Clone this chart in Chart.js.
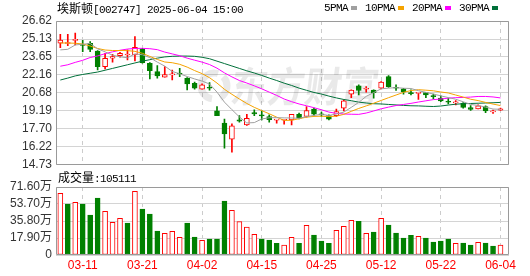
<!DOCTYPE html>
<html><head><meta charset="utf-8">
<script src="https://cdn.jsdelivr.net/npm/chart.js@4.4.1/dist/chart.umd.min.js"></script>
<style>
html,body{margin:0;padding:0;background:#fff;}
body{width:530px;height:276px;position:relative;overflow:hidden;}
canvas{position:absolute;left:0;}
#c1{top:0;}
#c2{top:160px;}
.txt{position:absolute;white-space:nowrap;height:16px;line-height:16px;color:#000;}
.cjk{font-family:'Noto Sans CJK SC';font-size:12px;}
.mono{font-family:'Liberation Mono';font-size:11px;letter-spacing:-0.6px;}
#legend{position:absolute;left:324px;top:0;height:16px;line-height:16px;display:flex;white-space:nowrap;}
#legend .item{margin-right:8px;}
#legend .sw{display:inline-block;width:6px;height:4px;margin-left:3px;vertical-align:1px;}
</style></head>
<body>
<canvas id="c1" width="530" height="176"></canvas>
<canvas id="c2" width="530" height="116"></canvas>
<div id="title" class="txt" style="left:57px;top:0;"></div>
<div id="legend"></div>
<div id="volLabel" class="txt" style="left:58px;top:169px;"></div>
<script>
// ---- data ----
const stockName = '埃斯顿';
const stockCode = '[002747]';
const stamp = '2025-06-04 15:00';
const volLabelText = '成交量';
const lastVolume = 105111;
const dates = ['03-06','03-07','03-10','03-11','03-12','03-13','03-14','03-17','03-18','03-19',
 '03-20','03-21','03-24','03-25','03-26','03-27','03-28','03-31','04-01','04-02',
 '04-03','04-07','04-08','04-09','04-10','04-11','04-14','04-15','04-16','04-17',
 '04-18','04-21','04-22','04-23','04-24','04-25','04-28','04-29','04-30','05-06',
 '05-07','05-08','05-09','05-12','05-13','05-14','05-15','05-16','05-19','05-20',
 '05-21','05-22','05-23','05-26','05-27','05-28','05-29','05-30','06-03','06-04'];
const tickDates = ['03-11','03-21','04-02','04-15','04-25','05-12','05-22','06-04'];
const priceTicks = [14.73,16.22,17.70,19.19,20.68,22.16,23.65,25.13,26.62];
const volTicks = [0,17.90,35.80,53.70,71.60];
const opens = [24.78,24.76,25.02,24.69,24.78,24.14,22.85,23.54,23.76,23.81,
 23.81,24.31,23.13,22.44,21.97,22.16,22.30,21.89,21.47,20.98,
 21.14,19.19,18.17,16.85,18.45,18.03,19.05,18.86,18.72,18.42,
 18.41,18.45,18.91,18.72,19.33,18.91,18.80,18.80,19.41,20.57,
 21.25,20.98,20.90,21.06,22.02,21.14,21.01,20.70,20.63,20.70,
 20.43,20.24,19.96,19.85,19.82,19.47,19.36,19.55,19.11,19.25];
const highs = [25.52,25.52,25.63,25.02,24.91,24.18,23.95,23.87,24.03,24.23,
 25.33,24.36,23.18,22.93,22.85,22.57,22.71,21.94,21.56,21.42,
 21.53,19.55,18.50,18.12,18.80,18.91,19.27,19.19,18.86,18.47,
 18.47,18.91,19.00,19.55,19.41,19.08,18.86,19.33,20.10,20.92,
 21.34,21.20,20.92,21.61,22.11,21.34,21.06,20.92,20.66,20.70,
 20.57,20.43,20.24,20.04,19.88,19.63,19.69,19.60,19.25,19.41];
const lows = [24.42,24.58,24.64,24.09,24.09,22.57,22.66,23.21,23.62,23.40,
 23.32,23.13,21.83,21.89,21.97,21.75,22.02,20.92,20.98,20.98,
 20.90,18.80,16.11,15.78,18.25,17.98,18.80,18.45,18.25,18.17,
 18.09,18.03,18.53,18.67,18.80,18.72,18.45,18.72,19.19,20.29,
 20.51,20.73,20.24,21.01,21.12,20.87,20.57,20.51,20.13,20.29,
 20.18,19.96,19.77,19.69,19.41,19.22,19.36,19.03,18.97,19.22];
const closes = [25.05,24.80,25.08,24.61,24.28,22.85,23.54,23.68,23.95,23.87,
 24.45,23.18,22.52,22.08,22.20,22.22,22.24,21.42,21.06,21.34,
 21.06,18.80,17.29,17.95,18.34,18.58,18.94,18.78,18.46,18.44,
 18.45,18.91,18.58,19.22,18.91,18.86,18.50,19.14,20.02,20.90,
 20.87,21.03,20.70,21.56,21.20,21.06,20.76,20.62,20.65,20.51,
 20.37,20.02,19.90,19.93,19.47,19.30,19.60,19.19,19.16,19.36];
const volumes = [65.0,53.7,55.5,53.7,42.1,60.0,46.0,34.4,38.6,33.7,
 67.0,48.4,43.2,25.3,22.8,24.9,18.6,33.7,19.0,15.4,
 16.8,16.8,56.9,47.0,35.1,29.5,21.8,16.8,15.8,12.3,
 10.5,18.6,12.3,31.2,21.1,14.7,12.3,26.0,30.2,36.5,
 35.5,22.8,24.2,38.6,31.6,23.2,17.9,20.7,19.7,17.9,
 13.7,14.7,16.8,12.3,12.6,10.5,13.3,12.6,9.5,10.51];
const ma5 = [24.23,24.28,24.64,24.70,24.76,24.32,24.07,23.79,23.66,23.58,
 23.90,23.83,23.59,23.22,22.89,22.45,22.25,22.03,21.83,21.65,
 21.41,20.74,19.91,19.29,18.69,18.19,18.22,18.52,18.62,18.63,
 18.61,18.60,18.57,18.72,18.81,18.90,18.81,18.93,19.09,19.48,
 19.89,20.39,20.70,21.01,21.07,21.11,21.06,21.04,20.86,20.72,
 20.58,20.43,20.29,20.15,19.94,19.72,19.64,19.50,19.34,19.32];
const ma10 = [24.80,24.80,24.78,24.72,24.55,24.35,24.22,24.18,24.18,24.17,
 24.11,23.95,23.69,23.44,23.23,23.17,23.04,22.81,22.52,22.27,
 21.93,21.49,20.97,20.56,20.17,19.80,19.48,19.21,18.95,18.67,
 18.40,18.41,18.54,18.67,18.73,18.75,18.71,18.75,18.90,19.15,
 19.39,19.60,19.82,20.05,20.28,20.50,20.72,20.87,20.94,20.90,
 20.85,20.75,20.67,20.50,20.33,20.15,20.04,19.89,19.75,19.63];
const ma20 = [22.88,23.00,23.20,23.37,23.60,23.73,23.92,24.07,24.20,24.30,
 24.35,24.36,24.33,24.25,24.05,23.90,23.75,23.55,23.38,23.22,
 23.02,22.72,22.33,22.00,21.70,21.49,21.26,21.01,20.74,20.47,
 20.17,19.95,19.76,19.61,19.45,19.28,19.09,18.98,18.93,18.91,
 18.90,19.01,19.18,19.36,19.50,19.63,19.72,19.81,19.92,20.02,
 20.12,20.17,20.24,20.28,20.30,20.33,20.38,20.38,20.34,20.26];
const ma30 = [21.74,21.90,22.08,22.20,22.30,22.40,22.55,22.70,22.85,23.00,
 23.15,23.30,23.42,23.55,23.65,23.70,23.72,23.72,23.70,23.62,
 23.50,23.30,23.10,22.90,22.70,22.50,22.32,22.12,21.90,21.70,
 21.48,21.29,21.07,20.89,20.71,20.58,20.41,20.26,20.13,20.03,
 19.91,19.84,19.78,19.76,19.72,19.68,19.64,19.61,19.60,19.57,
 19.55,19.59,19.67,19.74,19.78,19.80,19.82,19.84,19.86,19.89];
const maNames = ['5PMA','10PMA','20PMA','30PMA'];

// ---- styles ----
const RED = '#ff0000', GREEN = '#008000';
const maColors = ['#a0a0a0','#f5a300','#ff00ff','#00703a'];
const X_MIN = -0.58, X_MAX = 60.14;
const tickIdx = tickDates.map(d => dates.indexOf(d));
const up = i => closes[i] >= opens[i];
const volUp = i => i === 0 || closes[i] >= closes[i-1];

// ---- texts ----
document.getElementById('title').innerHTML =
  '<span class="cjk">' + stockName + '</span><span class="mono">' + stockCode + ' ' + stamp + '</span>';
document.getElementById('volLabel').innerHTML =
  '<span class="cjk">' + volLabelText + '</span><span class="mono">:' + lastVolume + '</span>';
document.getElementById('legend').innerHTML = maNames.map((n, k) =>
  '<span class="item mono">' + n + '<span class="sw" style="background:' + maColors[k] + '"></span></span>').join('');

// ---- plugins ----
const frame = { id: 'frame', afterDraw(chart) {
  const {ctx, chartArea: a} = chart;
  ctx.save(); ctx.strokeStyle = '#9a9a9a'; ctx.lineWidth = 1;
  const l = Math.round(a.left) + 0.5, t = Math.round(a.top) + 0.5;
  const r = Math.round(a.right) - 0.5, b = Math.round(a.bottom) - 0.5;
  ctx.beginPath(); ctx.rect(l, t, r - l, b - t); ctx.stroke();
  ctx.restore();
}};
const watermark = { id: 'wm', beforeDatasetsDraw(chart) {
  const {ctx} = chart;
  ctx.save();
  ctx.fillStyle = 'rgba(0,0,0,0.085)';
  ctx.strokeStyle = 'rgba(0,0,0,0.085)';
  // logo mark
  ctx.lineWidth = 7;
  ctx.beginPath(); ctx.arc(214, 86, 13, Math.PI * 0.55, Math.PI * 1.6); ctx.stroke();
  ctx.beginPath(); ctx.arc(214, 86, 13, Math.PI * 1.75, Math.PI * 0.35); ctx.stroke();
  // brand text
  ctx.font = 'bold 37px "Noto Sans CJK SC"';
  ctx.textBaseline = 'middle';
  ctx.translate(231, 86);
  ctx.transform(1, 0, -0.15, 1.12, 0, 0);
  ctx.fillText('东方财富', 0, 0);
  ctx.restore();
}};

function xScale(showLabels) {
  return {
    type: 'linear', min: X_MIN, max: X_MAX, offset: false, bounds: 'ticks',
    afterBuildTicks: s => { s.ticks = tickIdx.map(v => ({value: v})); },
    afterFit: s => { s.height = showLabels ? 21 : 0; },
    grid: {color: '#cccccc', drawTicks: false, lineWidth: 1, offset: false},
    border: {display: false, dash: [4, 4]},
    ticks: {display: showLabels, color: RED, font: {family: 'Liberation Sans', size: 12},
      padding: 3, maxRotation: 0, autoSkip: false, callback: v => dates[v]}
  };
}

const pts = arr => arr.map((v, i) => ({x: i, y: v}));

new Chart(document.getElementById('c1'), {
  data: {
    datasets: [
      ...[ma5, ma10, ma20, ma30].map((arr, k) => ({
        type: 'line', label: maNames[k], data: pts(arr), borderColor: maColors[k],
        borderWidth: 1, pointRadius: 0, tension: 0, order: 0
      })),
      {type: 'bar', label: 'body', order: 1, grouped: false,
        data: opens.map((o, i) => ({x: i, y: [o, closes[i]]})),
        barThickness: 5, minBarLength: 1, borderWidth: 1, borderSkipped: false,
        backgroundColor: c => up(c.dataIndex) ? '#ffffff' : GREEN,
        borderColor: c => up(c.dataIndex) ? RED : GREEN},
      {type: 'bar', label: 'wick', order: 2, grouped: false,
        data: highs.map((h, i) => ({x: i, y: [lows[i], h]})),
        barThickness: 1, borderWidth: 0,
        backgroundColor: c => up(c.dataIndex) ? RED : GREEN}
    ]
  },
  options: {
    responsive: false, animation: false, devicePixelRatio: 1,
    layout: {padding: {top: 21, right: 21, bottom: 11, left: 0}},
    plugins: {legend: {display: false}, tooltip: {enabled: false}},
    scales: {
      x: xScale(false),
      y: {
        min: 14.73, max: 26.62,
        afterBuildTicks: s => { s.ticks = priceTicks.map(v => ({value: v})); },
        afterFit: s => { s.width = 56; },
        grid: {color: '#d4d4d4', drawTicks: false},
        border: {display: false},
        ticks: {color: '#333', font: {family: 'Liberation Sans', size: 12}, padding: 4, autoSkip: false,
          callback: v => v.toFixed(2)}
      }
    }
  },
  plugins: [watermark, frame]
});

new Chart(document.getElementById('c2'), {
  type: 'bar',
  data: {
    datasets: [{
      label: volLabelText, data: pts(volumes), barThickness: 5, borderWidth: 1, borderSkipped: false,
      backgroundColor: c => volUp(c.dataIndex) ? '#ffffff' : GREEN,
      borderColor: c => volUp(c.dataIndex) ? RED : GREEN
    }]
  },
  options: {
    responsive: false, animation: false, devicePixelRatio: 1,
    layout: {padding: {top: 27, right: 21, bottom: 0, left: 0}},
    plugins: {legend: {display: false}, tooltip: {enabled: false}},
    scales: {
      x: xScale(true),
      y: {
        min: 0, max: 71.6,
        afterBuildTicks: s => { s.ticks = volTicks.map(v => ({value: v})); },
        afterFit: s => { s.width = 56; },
        grid: {color: '#d4d4d4', drawTicks: false},
        border: {display: false},
        ticks: {color: '#333', font: {family: "'Liberation Sans','Noto Sans CJK SC'", size: 12}, padding: 4, autoSkip: false,
          callback: v => v === 0 ? '0' : v.toFixed(2) + '万'}
      }
    }
  },
  plugins: [frame]
});
</script>
</body></html>
